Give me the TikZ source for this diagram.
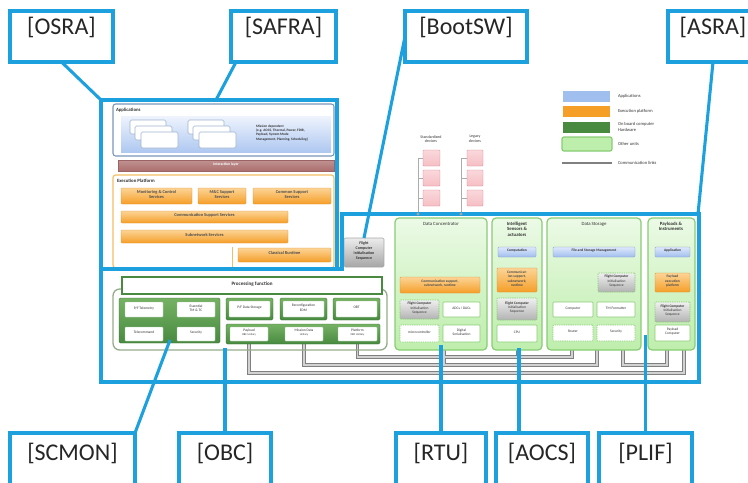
\documentclass[tikz,border=0pt]{standalone}
\usepackage{fontspec}
\setmainfont{Carlito}
\usetikzlibrary{fit}
\definecolor{cyanb}{RGB}{28,160,222}
\definecolor{appblue}{RGB}{160,190,238}
\definecolor{appbluel}{RGB}{222,232,252}
\definecolor{exorange}{RGB}{245,158,40}
\definecolor{exorangel}{RGB}{252,212,150}
\definecolor{obcgreen}{RGB}{72,138,64}
\definecolor{obcgreenl}{RGB}{118,178,100}
\definecolor{othgreen}{RGB}{190,238,172}
\definecolor{othgreend}{RGB}{136,204,116}
\definecolor{ilayer}{RGB}{172,110,110}
\definecolor{steel}{RGB}{120,150,185}
\definecolor{exframe}{RGB}{242,190,100}
\definecolor{devpink}{RGB}{246,190,196}
\definecolor{devedge}{RGB}{214,130,140}
\definecolor{contgrey}{RGB}{150,170,140}
\definecolor{linkgrey}{RGB}{128,128,128}
\pgfdeclarelayer{bg}
\pgfsetlayers{bg,main}
% box spanning the rectangle (x1,y1)-(x2,y2)
\newcommand{\bx}[7]{\node[#2, fit={(#3,#4)(#5,#6)}] (#1) {#7};}
\newcommand{\fcistext}{\textbf{Flight Computer}\\Initialisation\\Sequence}
% communication link routes
\newcommand{\linkroutes}[1]{%
  \draw[#1] (plat.south) -- (plat.south |- yA) -| (ds.south -| xDSa);
  \draw[#1] (isa.south -| xIS) -- (yA -| xIS);
  \draw[#1] (mis.south) -- (mis.south |- yB) -| (ds.south -| xDSb);
  \draw[#1] (dc.south -| xDC) -- (yB -| xDC);
  \draw[#1] (pay.south) -- (pay.south |- yC) -| (pli.south -| xPLb);
  \draw[#1] (ds.south -| xDSc) |- (yB -| xPLa) -- (pli.south -| xPLa);
}
\tikzset{
  bxbase/.style={inner sep=0pt, outer sep=0pt, align=center, text=black!80},
  lbl/.style={bxbase, draw=cyanb, line width=2.6pt, fill=white, text=black!85, font=\fontsize{18}{20}\selectfont},
  conn/.style={draw=cyanb, line width=2.3pt},
  blueframe/.style={draw=cyanb, line width=2.9pt},
  ttl/.style={bxbase, font=\fontsize{3.6}{4.1}\selectfont},
  ttlb/.style={bxbase, font=\fontsize{3.6}{4.1}\selectfont\bfseries},
  txt/.style={bxbase, font=\fontsize{2.7}{3.2}\selectfont},
  orng/.style={bxbase, rounded corners=0.6pt, top color=exorangel, bottom color=exorange, draw=exorange!90!black, line width=0.2pt, font=\fontsize{3.3}{3.9}\selectfont\bfseries, text=black!70},
  orngs/.style={orng, font=\fontsize{2.7}{3.2}\selectfont\bfseries},
  appbar/.style={bxbase, rounded corners=0.6pt, top color=appbluel, bottom color=appblue, draw=appblue!80!black, line width=0.2pt, font=\fontsize{2.7}{3.2}\selectfont\bfseries},
  wbox/.style={txt, fill=white, draw=othgreend, line width=0.4pt, rounded corners=0.6pt},
  dbox/.style={wbox, dash pattern=on 1pt off 0.7pt},
  fcis/.style={txt, rounded corners=0.6pt, top color=gray!12, bottom color=gray!60, draw=othgreend, dash pattern=on 1pt off 0.7pt, line width=0.4pt},
  unit/.style={bxbase, rounded corners=3pt, top color=othgreen!30!white, bottom color=othgreen, draw=othgreend, line width=0.9pt},
  gpanel/.style={bxbase, rounded corners=1pt, top color=obcgreenl, bottom color=obcgreen, draw=obcgreen!80!black, line width=0.3pt},
  gwbox/.style={txt, fill=white, draw=obcgreen!50, line width=0.3pt, rounded corners=0.4pt},
  page/.style={bxbase, fill=white, draw=steel!70, line width=0.4pt, rounded corners=1.2pt},
  dev/.style={bxbase, top color=devpink!60!white, bottom color=devpink, draw=devedge, line width=0.3pt, rounded corners=0.5pt},
  devline/.style={draw=gray!65, line width=0.45pt},
  lnkout/.style={draw=linkgrey, line width=2.6pt},
  lnkin/.style={draw=gray!35, line width=0.9pt},
  swatch/.style={bxbase},
  lgtxt/.style={bxbase, anchor=west, align=left, font=\fontsize{3.4}{3.9}\selectfont, text=black!80},
  lgline/.style={draw=linkgrey, line width=1.8pt},
}
\begin{document}
\begin{tikzpicture}[x=0.75pt,y=-0.75pt]
\useasboundingbox (0,0) rectangle (748,482);
\clip (0,0) rectangle (748,482);

% ---------- legend ----------
\bx{lgapp}{swatch, fill=appblue}{563}{91}{610}{102}{}
\bx{lgexe}{swatch, fill=exorange}{563}{106}{610}{117}{}
\bx{lgobc}{swatch, fill=obcgreen}{563}{122}{610}{133}{}
\bx{lgoth}{swatch, fill=othgreen, draw=othgreend, line width=0.9pt, rounded corners=1.5pt}{562}{137}{612}{151}{}
\coordinate (lgl1) at (562,163);
\coordinate (lgl2) at (612,163);
\draw[lgline] (lgl1) -- (lgl2);
\node[lgtxt] (tapp) at (618,96) {Applications};
\node[lgtxt] (texe) at (618,111) {Execution platform};
\node[lgtxt] (tobc) at (618,127) {On board computer\\Hardware};
\node[lgtxt] (toth) at (618,144) {Other units};
\node[lgtxt] (tlnk) at (618,163) {Communication links};

% ---------- external devices ----------
\node[txt, font=\fontsize{3}{3.5}\selectfont] (sdt) at (431,139) {Standardized\\devices};
\node[txt, font=\fontsize{3}{3.5}\selectfont] (ldt) at (475,139) {Legacy\\devices};
\bx{sd1}{dev}{423}{150}{440}{166}{}
\bx{sd2}{dev}{423}{170}{440}{186}{}
\bx{sd3}{dev}{423}{190}{440}{206}{}
\bx{ld1}{dev}{467}{150}{483}{166}{}
\bx{ld2}{dev}{467}{170}{483}{186}{}
\bx{ld3}{dev}{467}{190}{483}{206}{}
\coordinate (sdot) at (418,214);
\coordinate (ldot) at (461,214);
\draw[devline] (sd1.west) -| (sdot);
\draw[devline] (sd2.west) -- (sd2.west -| sdot);
\draw[devline] (sd3.west) -- (sd3.west -| sdot);
\draw[devline] (ld1.west) -| (ldot);
\draw[devline] (ld2.west) -- (ld2.west -| ldot);
\draw[devline] (ld3.west) -- (ld3.west -| ldot);

% ---------- applications ----------
\bx{appl}{bxbase, fill=white, draw=steel, line width=0.8pt, rounded corners=2pt}{113}{104}{334}{156}{}
\bx{appin}{bxbase, top color=appbluel!50!white, bottom color=appblue!85}{121}{116}{331}{152}{}
\node[ttlb, anchor=west] (applt) at (116,110) {Applications};
\bx{pa1}{page}{130}{120}{166}{134}{}
\bx{pa2}{page}{135}{126}{172}{140}{}
\bx{pa3}{page}{141}{132}{178}{148}{}
\bx{pb1}{page}{188}{120}{224}{134}{}
\bx{pb2}{page}{193}{126}{230}{140}{}
\bx{pb3}{page}{199}{132}{236}{148}{}
\node[txt, anchor=west, align=left, font=\fontsize{2.6}{3.1}\selectfont\bfseries] (mdep) at (256,133)
  {Mission dependent\\(e.g. AOCS, Thermal, Power, FDIR,\\Payload, System Mode\\Management, Planning, Scheduling)};
\bx{ilay}{bxbase, top color=ilayer!75, bottom color=ilayer, draw=ilayer!90!black, line width=0.2pt, text=white, font=\fontsize{2.8}{3.3}\selectfont\bfseries}{118}{160}{334}{171}{Interaction layer}

% ---------- execution platform ----------
\bx{exec}{bxbase, draw=exframe, line width=0.9pt, rounded corners=2pt}{113}{175}{334}{268}{}
\node[ttlb, anchor=west] (exect) at (117,181) {Execution Platform};
\bx{mcs}{orng}{121}{188}{192}{204}{Monitoring \& Control\\Services}
\bx{mcss}{orng}{198}{188}{246}{204}{M\&C Support\\Services}
\bx{css}{orng}{253}{188}{331}{204}{Common Support\\Services}
\bx{comss}{orng}{121}{211}{288}{223}{Communication Support Services}
\bx{subs}{orng}{121}{230}{288}{243}{Subnetwork Services}
\bx{crt}{orng}{238}{248}{331}{262}{Classical Runtime}
\coordinate (sepx) at (232,247);
\draw[draw=exframe, line width=0.6pt] (sepx) -- (sepx |- exec.south);

% ---------- boot software ----------
\bx{fcisb}{bxbase, rounded corners=1pt, top color=gray!15, bottom color=gray!70, draw=gray!70, line width=0.4pt, font=\fontsize{3}{3.6}\selectfont\bfseries}{344}{238}{384}{267}{Flight\\Computer\\Initialisation\\Sequence}

% ---------- on-board computer ----------
\bx{obcc}{bxbase, draw=contgrey, line width=1pt, rounded corners=5pt}{113}{289}{387}{350}{}
\bx{pf}{bxbase, fill=white, draw=obcgreen, line width=2.1pt, font=\fontsize{3.8}{4.4}\selectfont\bfseries}{122}{277}{382}{294}{Processing function}
\bx{scp}{gpanel}{119}{298}{220}{343}{}
\bx{pftm}{gwbox}{125}{302}{163}{317}{P/F Telemetry}
\bx{etmtc}{gwbox}{177}{302}{215}{317}{Essential\\TM \& TC}
\bx{tc}{gwbox}{125}{327}{163}{341}{Telecommand}
\bx{sec}{gwbox}{177}{327}{215}{341}{Security}
\bx{pfdsf}{gpanel}{226}{298}{273}{320}{}
\bx{pfds}{gwbox}{229}{301}{270}{317}{P/F Data Storage}
\bx{recf}{gpanel}{280}{298}{327}{320}{}
\bx{rec}{gwbox}{283}{301}{324}{317}{Reconfiguration\\EDM}
\bx{obtf}{gpanel}{333}{298}{380}{320}{}
\bx{obt}{gwbox}{336}{301}{377}{317}{OBT}
\bx{strip}{gpanel}{226}{324}{380}{344}{}
\bx{pay}{gwbox}{230}{327}{268}{341}{Payload\\{\fontsize{2.1}{2.5}\selectfont OBC Unitary}}
\bx{mis}{gwbox}{285}{327}{323}{341}{Mission Data\\{\fontsize{2.1}{2.5}\selectfont Unitary}}
\bx{plat}{gwbox}{338}{327}{377}{341}{Platform\\{\fontsize{2.1}{2.5}\selectfont OBC Unitary}}

% ---------- data concentrator ----------
\bx{dc}{unit}{395}{218}{487}{350}{}
\node[ttl, anchor=north] (dct) at (441,222) {Data Concentrator};
\bx{dccs}{orngs}{400}{277}{480}{293}{Communication support,\\subnetwork, runtime}
\bx{dcfc}{fcis}{400}{300}{439}{319}{\fcistext}
\bx{adc}{wbox}{443}{302}{480}{317}{ADCs / DACs}
\bx{mcu}{dbox}{400}{325}{439}{342}{microcontroller}
\bx{dig}{wbox}{443}{325}{480}{342}{Digital\\Serialisation}

% ---------- intelligent sensors and actuators ----------
\bx{isa}{unit}{492}{218}{542}{350}{}
\node[ttlb, anchor=north] (isat) at (517,222) {Intelligent\\Sensors \&\\actuators};
\bx{comp}{appbar}{498}{247}{536}{257}{Computation}
\bx{isacs}{orngs}{497}{268}{537}{292}{Communicat-\\ion support,\\subnetwork,\\runtime}
\bx{isafc}{fcis}{497}{298}{537}{320}{\fcistext}
\bx{cpu}{wbox}{497}{325}{537}{342}{CPU}

% ---------- data storage ----------
\bx{ds}{unit}{547}{218}{641}{350}{}
\node[ttl, anchor=north] (dst) at (594,222) {Data Storage};
\bx{fsm}{appbar}{553}{247}{635}{257}{File and Storage Management}
\bx{dsfc}{fcis}{598}{273}{635}{292}{\fcistext}
\bx{cmp}{wbox}{553}{302}{593}{317}{Computer}
\bx{tmf}{wbox}{597}{302}{635}{317}{TM Formatter}
\bx{rtr}{dbox}{553}{325}{593}{341}{Router}
\bx{dsec}{dbox}{597}{325}{635}{341}{Security}

% ---------- payloads and instruments ----------
\bx{pli}{unit}{648}{218}{695}{350}{}
\node[ttlb, anchor=north] (plit) at (671,222) {Payloads \&\\Instruments};
\bx{papp}{appbar}{655}{247}{690}{257}{Application}
\bx{pexp}{orngs}{655}{273}{690}{292}{Payload\\execution\\platform}
\bx{plfc}{fcis}{655}{302}{690}{322}{\fcistext}
\bx{pcomp}{wbox}{655}{325}{690}{341}{Payload\\Computer}

% ---------- communication links ----------
\coordinate (yA) at (0,357);
\coordinate (yB) at (0,365);
\coordinate (yC) at (0,373);
\coordinate (xDSa) at (572,0);
\coordinate (xDSb) at (597,0);
\coordinate (xDSc) at (623,0);
\coordinate (xPLa) at (667,0);
\coordinate (xPLb) at (684,0);
\coordinate (xDC) at (444,0);
\coordinate (xIS) at (518,0);
\begin{pgfonlayer}{bg}
  \linkroutes{lnkout}
  \linkroutes{lnkin}
\end{pgfonlayer}

% ---------- reference architecture frames ----------
\coordinate (oNW) at (101,100);
\coordinate (oSE) at (337,269);
\draw[blueframe] (oNW) rectangle (oSE);
\draw[blueframe] (101,269) -- (342,269) -- (342,214) -- (699,214) -- (699,382) -- (101,382) -- cycle;
\fill[gray!70] (sdot) circle (1.3pt);
\fill[gray!70] (ldot) circle (1.3pt);

% ---------- reference labels ----------
\bx{osra}{lbl}{10}{11}{113}{62}{[OSRA]}
\bx{safra}{lbl}{231}{11}{336}{62}{[SAFRA]}
\bx{bootsw}{lbl}{405}{11}{527}{62}{[BootSW]}
\bx{asra}{lbl}{668}{11}{758}{62}{[ASRA]}
\bx{scmon}{lbl}{10}{433}{135}{492}{[SCMON]}
\bx{obc}{lbl}{179}{433}{271}{492}{[OBC]}
\bx{rtu}{lbl}{396}{433}{486}{492}{[RTU]}
\bx{aocs}{lbl}{496}{433}{588}{492}{[AOCS]}
\bx{plif}{lbl}{599}{433}{692}{492}{[PLIF]}

\coordinate (safraEnd) at (216,100);
\coordinate (asraEnd) at (698,214);
\coordinate (scmonEnd) at (170,340);
\coordinate (obcEnd) at (225,348);
\coordinate (rtuEnd) at (441,345);
\coordinate (aocsEnd) at (519,348);
\coordinate (plifEnd) at (645.5,335);

\draw[conn] (osra.south) -- (oNW);
\draw[conn] (safra.south west -| 236,0) -- (safraEnd);
\draw[conn] (bootsw.west) -- (fcisb.north);
\draw[conn] (asra.south) -- (asraEnd);
\draw[conn] (scmon.north east) -- (scmonEnd);
\draw[conn] (obc.north -| obcEnd) -- (obcEnd);
\draw[conn] (rtu.north -| rtuEnd) -- (rtuEnd);
\draw[conn] (aocs.north -| aocsEnd) -- (aocsEnd);
\draw[conn] (plif.north -| plifEnd) -- (plifEnd);
\end{tikzpicture}
\end{document}
